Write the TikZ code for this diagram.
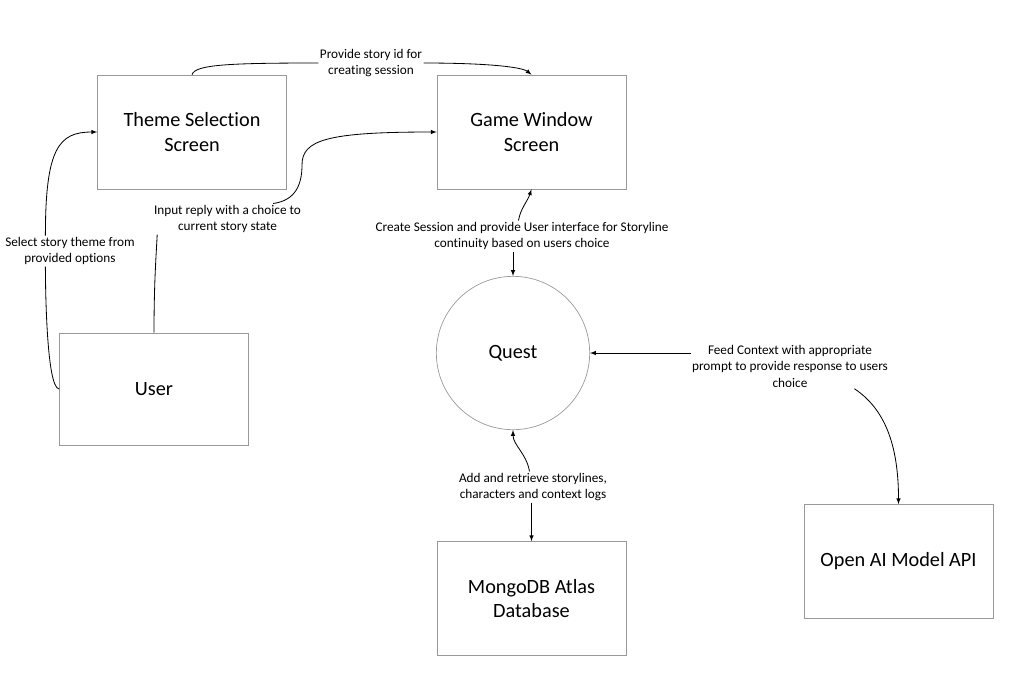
\documentclass[tikz,border=0pt]{standalone}
\usepackage{fontspec}
\setmainfont{Carlito}[Ligatures=NoCommon]
\usepackage{tikz}
\usetikzlibrary{arrows}
\newcommand{\boxfont}{\fontsize{17.3}{21.3}\selectfont}
\newcommand{\lblfont}{\fontsize{11.3}{14.1}\selectfont}

\begin{document}
\begin{tikzpicture}[x=0.03cm, y=-0.03cm, >=latex, line width=0.7pt]
        \tikzset{screen node/.style={rectangle, draw=black!40, line width=0.6pt, minimum width=5.67cm, minimum height=3.42cm, align=center, font=\boxfont},
                 core node/.style={circle, draw=black!40, line width=0.6pt, minimum size=4.6cm, font=\boxfont},
                 edge label/.style={align=center, inner sep=1pt, fill=white, font=\lblfont}}
        \useasboundingbox (0,0) rectangle (1019,689);

        % Nodes
        \node (theme) [screen node] at (192,132) {Theme Selection\\Screen};
        \node (game) [screen node] at (531.5,132) {Game Window\\Screen};
        \node (user) [screen node, minimum height=3.36cm] at (154,389) {User};
        \node (quest) [core node] at (513,353) {Quest};
        \node (mongo) [screen node] at (531.5,598.5) {MongoDB Atlas\\Database};
        \node (openai) [screen node] at (898.5,561.5) {Open AI Model API};

        % Labels
        \node (idlbl) [edge label] at (371,63) {Provide story id for\\creating session};
        \node (sellbl) [edge label] at (70,251) {Select story theme from\\provided options};
        \node (inlbl) [edge label] at (227.5,219) {Input reply with a choice to\\current story state};
        \node (crlbl) [edge label] at (522,236) {Create Session and provide User interface for Storyline\\continuity based on users choice};
        \node (fdlbl) [edge label] at (790,366) {Feed Context with appropriate\\prompt to provide response to users\\choice};
        \node (adlbl) [edge label] at (533,487) {Add and retrieve storylines,\\characters and context logs};
        \coordinate (inbend) at (302,165);

        % Arrows
        \draw (theme.north) .. controls +(3,-10) and +(-90,0) .. (idlbl.west);
        \draw [->] (idlbl.east) .. controls +(60,0) and +(-10,-8) .. (game.north);
        \draw (user.west) .. controls +(-13,-1) and +(0,15) .. ([xshift=-21pt]sellbl.south);
        \draw [->] ([xshift=-21pt]sellbl.north) .. controls +(0,-88) and +(-38,0) .. (theme.west);
        \draw (user.north) .. controls +(0,-50) and +(-1,20) .. ([xshift=-60pt]inlbl.south);
        \draw [->] ([xshift=39pt]inlbl.north) .. controls +(22,-3) and +(0,20) .. (inbend) .. controls +(0,-25) and +(-110,0) .. (game.west);
        \draw [->] ([xshift=-3pt]crlbl.north) .. controls +(2,-12) and +(-4,12) .. (game.south);
        \draw [->] (crlbl.south -| quest.north) -- (quest.north);
        \draw [->] (fdlbl.west |- quest.east) -- (quest.east);
        \draw [->] ([xshift=55pt]fdlbl.south) .. controls +(30,20) and +(0,-60) .. (openai.north);
        \draw [->] ([xshift=-3pt]adlbl.north) .. controls +(-3,-18) and +(0,15) .. (quest.south);
        \draw [->] (adlbl.south -| mongo.north) -- (mongo.north);
    \end{tikzpicture}
\end{document}
